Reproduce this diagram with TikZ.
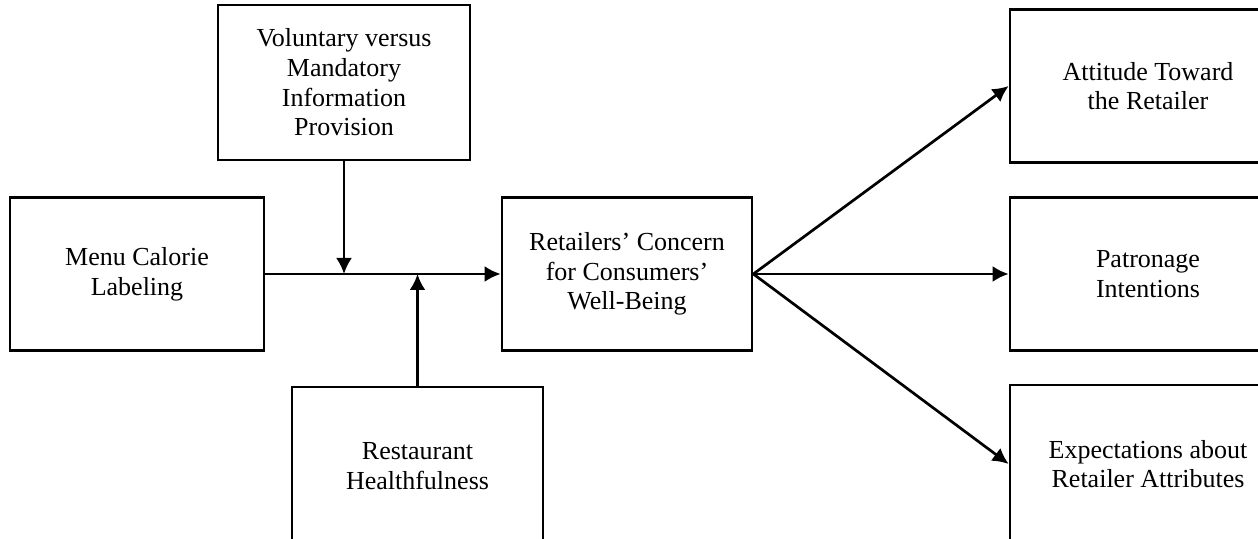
\documentclass[tikz,border=0pt]{standalone}
\usepackage{fontspec}
\setmainfont{Liberation Serif}
\usetikzlibrary{arrows.meta}
\begin{document}
\begin{tikzpicture}[x=0.5pt,y=-0.5pt]
\tikzstyle{every node}+=[inner sep=0pt]
\tikzstyle{block}=[draw=black,line width=1.35pt,align=center,font=\fontsize{13}{14.8}\selectfont]
\tikzstyle{link}=[black,line width=1.35pt,-{Latex[length=8pt,width=8pt]}]
\useasboundingbox (0,0) rectangle (1258,539);
\node [block,minimum width=126pt,minimum height=77.5pt] (vmip) at (344,82.5) {Voluntary versus\\Mandatory\\Information\\Provision};
\node [block,minimum width=127pt,minimum height=76.5pt] (menu) at (137,274) {Menu Calorie\\Labeling};
\node [block,minimum width=125pt,minimum height=76.5pt] (conc) at (627,274) {Retailers’ Concern\\for Consumers’\\Well-Being};
\node [block,minimum width=125.5pt,minimum height=79pt] (rest) at (417.5,466) {Restaurant\\Healthfulness};
\node [block,minimum width=138pt,minimum height=76.5pt] (att) at (1148,86) {Attitude Toward\\the Retailer};
\node [block,minimum width=138pt,minimum height=76.5pt] (pat) at (1148,274) {Patronage\\Intentions};
\node [block,minimum width=138pt,minimum height=79pt] (expc) at (1148,464) {Expectations about\\Retailer Attributes};
\draw [link] (menu.east) -- (conc.west);
\draw [link] (vmip.south) -- (vmip.south |- menu.east);
\draw [link] (rest.north) -- (rest.north |- menu.east);
\draw [link] (conc.east) -- (att.west);
\draw [link] (conc.east) -- (pat.west);
\draw [link] (conc.east) -- (expc.west);
\end{tikzpicture}
\end{document}
